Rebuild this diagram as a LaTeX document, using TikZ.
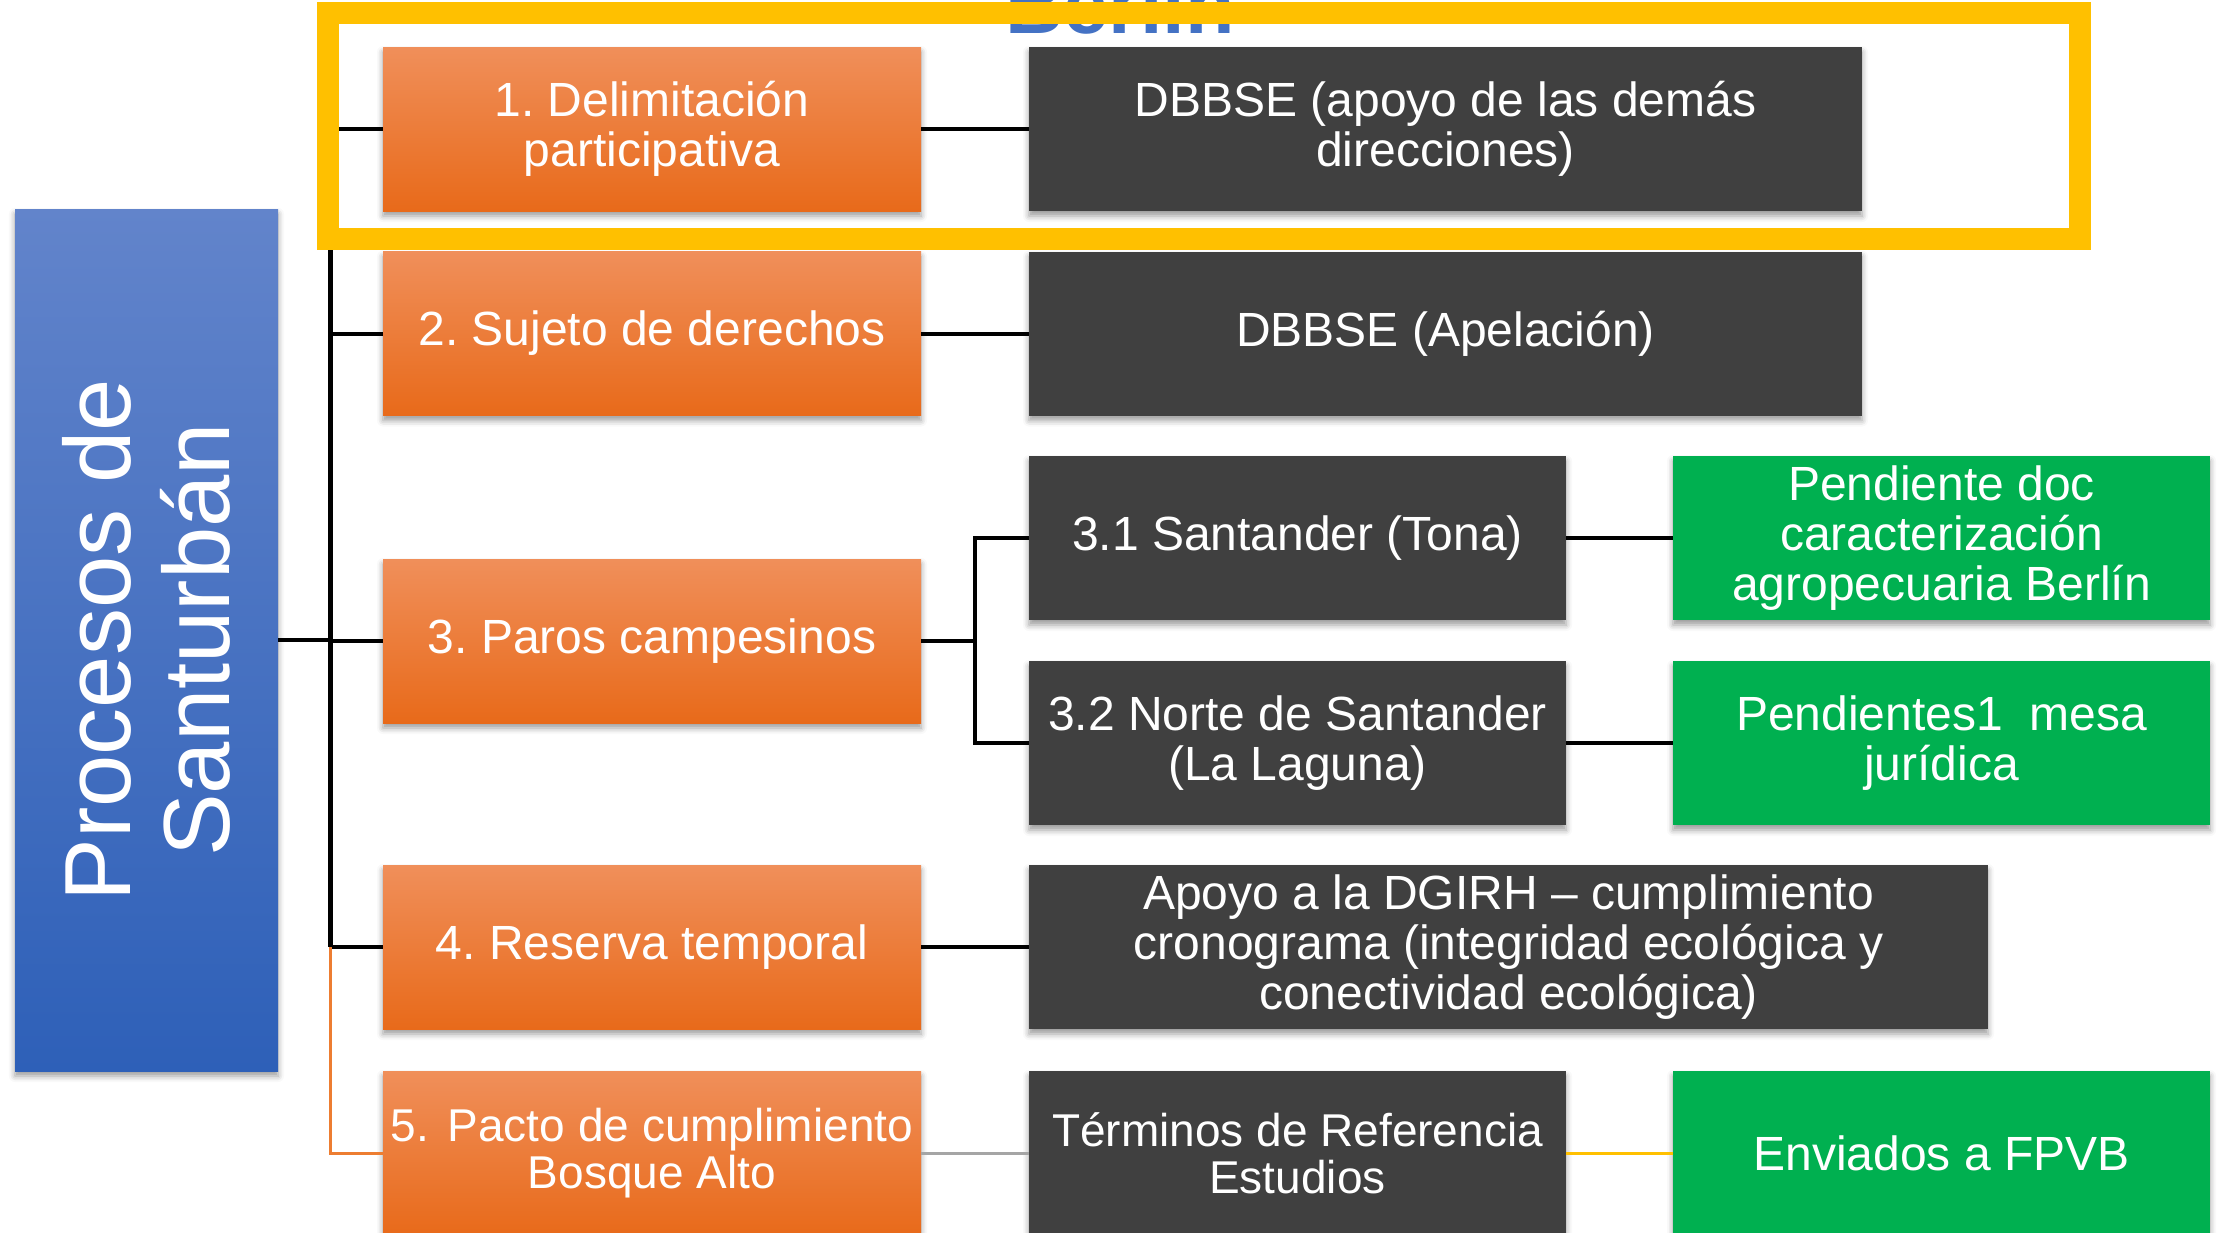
\documentclass[tikz,border=0pt]{standalone}
\usepackage{fontspec}
\setmainfont{Liberation Sans}
\usetikzlibrary{shadows.blur}
\definecolor{dk}{HTML}{404040}
\definecolor{gr}{HTML}{00B050}
\definecolor{yl}{HTML}{FFC000}
\definecolor{oT}{HTML}{F08F5A}
\definecolor{oM}{HTML}{F37E32}
\definecolor{oB}{HTML}{E86A1A}
\definecolor{bT}{HTML}{6284CB}
\definecolor{bB}{HTML}{2E60B8}
\definecolor{ttl}{HTML}{4472C4}
\definecolor{orl}{HTML}{ED7D31}
\definecolor{gyl}{HTML}{A5A5A5}
\frenchspacing
\begin{document}
\begin{tikzpicture}[x=1pt,y=-1pt,
  box/.style={rectangle, inner sep=0pt, align=center, text=white,
    font=\fontsize{48}{50}\selectfont,
    blur shadow={shadow xshift=0pt, shadow yshift=-5pt, shadow blur radius=6pt, shadow opacity=40}},
  obox/.style={box, minimum width=538pt, minimum height=164pt, top color=oT, middle color=oM, bottom color=oB},
  dbox/.style={box, fill=dk, minimum height=164pt},
  gbox/.style={box, fill=gr, minimum width=537pt, minimum height=164pt},
  conn/.style={line width=4pt, black},
  thin/.style={line width=3pt}]
\useasboundingbox (0,0) rectangle (2219,1232);
\clip (0,0) rectangle (2219,1232);

% title behind frame
\node[anchor=base, text=ttl, font=\fontsize{81}{81}\selectfont\bfseries, inner sep=0pt] (title) at (1120,33) {Berlín};

% root
\node[box, minimum width=263pt, minimum height=862pt, top color=bT, bottom color=bB] (root) at (146.5,640) {};
\node[rotate=90, align=center, text=white, font=\fontsize{94}{99}\selectfont, inner sep=0pt] (roottxt) at (root.center) {Procesos de\\Santurbán};

% orange
\node[obox] (o1) at (652,129) {1. Delimitación\\participativa};
\node[obox] (o2) at (652,333.5) {2. Sujeto de derechos};
\node[obox] (o3) at (652,641) {3. Paros campesinos};
\node[obox] (o4) at (652,947) {4. Reserva temporal};
\node[obox, font=\fontsize{46}{47}\selectfont] (o5) at (652,1153) {5.\hspace{0.4em}Pacto de cumplimiento\\Bosque Alto};

% dark
\node[dbox, minimum width=833pt] (d1) at (1445.5,129) {DBBSE (apoyo de las demás\\direcciones)};
\node[dbox, minimum width=833pt] (d2) at (1445.5,333.5) {DBBSE (Apelación)};
\node[dbox, minimum width=537pt] (d31) at (1297.5,538) {3.1 Santander (Tona)};
\node[dbox, minimum width=537pt] (d32) at (1297.5,743) {3.2 Norte de Santander\\(La Laguna)};
\node[dbox, minimum width=959pt] (d4) at (1508.5,947) {Apoyo a la DGIRH – cumplimiento\\cronograma (integridad ecológica y\\conectividad ecológica)};
\node[dbox, minimum width=537pt, font=\fontsize{46}{47}\selectfont] (d5) at (1297.5,1153) {Términos de Referencia\\Estudios};

% green
\node[gbox] (g1) at (1941.5,538) {Pendiente doc\\caracterización\\agropecuaria Berlín};
\node[gbox] (g2) at (1941.5,743) {Pendientes1\ \ mesa\\jurídica};
\node[gbox] (g5) at (1941.5,1153) {Enviados a FPVB};

% connectors
\coordinate (ttop) at (330,129);
\coordinate (tmid) at (330,640);
\coordinate (tbot) at (330,947);
\coordinate (fork) at (975,641);
\draw[conn] (root.east) -- (tmid);
\draw[line width=5pt, black] (ttop) -- (tbot);
\draw[conn] (ttop) -- (o1.west);
\draw[conn] (ttop |- o2.west) -- (o2.west);
\draw[conn] (tmid |- o3.west) -- (o3.west);
\draw[conn] (tbot) -- (o4.west);
\draw[thin, orl] (tbot) |- (o5.west);

\draw[conn] (o1.east) -- (d1.west);
\draw[conn] (o2.east) -- (d2.west);
\draw[conn] (o3.east) -- (fork);
\draw[conn] (d31.west) -| (fork) |- (d32.west);
\draw[conn] (o4.east) -- (d4.west);
\draw[thin, gyl] (o5.east) -- (d5.west);

\draw[conn] (d31.east) -- (g1.west);
\draw[conn] (d32.east) -- (g2.west);
\draw[thin, yl] (d5.east) -- (g5.west);

% highlight frame
\node[draw=yl, line width=22pt, minimum width=1752pt, minimum height=226pt, inner sep=0pt] (frame) at (1204,126) {};
\end{tikzpicture}
\end{document}
